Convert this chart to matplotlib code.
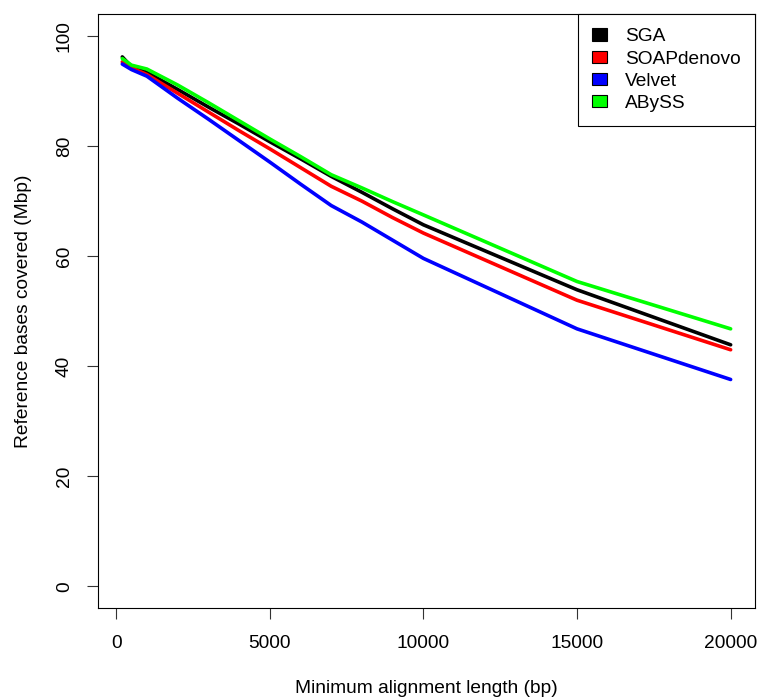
import numpy as np
import matplotlib.pyplot as plt
from matplotlib.patches import Patch

plt.rcParams['font.family'] = ['Liberation Sans', 'DejaVu Sans']

# minimum alignment length (bp)
min_len = [200, 500, 1000, 2000, 3000, 4000, 5000, 6000, 7000, 8000, 9000, 10000, 15000, 20000]

# reference bases covered (Mbp)
sga = [96.2, 94.4, 93.4, 90.3, 87.1, 84.0, 80.8, 77.7, 74.5, 71.6, 68.6, 65.7, 53.9, 43.9]
soap = [95.3, 94.2, 93.0, 89.6, 86.2, 82.8, 79.5, 76.1, 72.7, 70.0, 67.0, 64.2, 52.0, 43.0]
velvet = [94.9, 93.9, 92.7, 88.7, 84.9, 81.0, 77.1, 73.1, 69.2, 66.2, 62.9, 59.6, 46.8, 37.6]
abyss = [95.9, 94.7, 94.0, 91.1, 87.9, 84.6, 81.3, 78.1, 74.8, 72.4, 69.9, 67.5, 55.4, 46.8]

names = ['SGA', 'SOAPdenovo', 'Velvet', 'ABySS']
series = [sga, soap, velvet, abyss]
colors = ['#000000', '#ff0000', '#0000ff', '#00ff00']

x_ticks = [0, 5000, 10000, 15000, 20000]
y_ticks = [0, 20, 40, 60, 80, 100]

fs = 13.8

fig = plt.figure(figsize=(7.66, 6.99), dpi=100)
ax = fig.add_axes([0.1279, 0.1295, 0.8577, 0.8505])

for y, c in zip(series, colors):
    ax.plot(min_len, y, color=c, lw=2.6, solid_capstyle='round', solid_joinstyle='round')

# R-like 4% axis expansion
span = max(min_len) - min(min_len)
ax.set_xlim(min(min_len) - 0.04 * span, max(min_len) + 0.04 * span)
ax.set_ylim(-4, 104)

ax.set_xticks(x_ticks)
ax.set_yticks(y_ticks)
ax.set_xticklabels([str(t) for t in x_ticks])
ax.set_yticklabels([str(t) for t in y_ticks], rotation=90, va='center')
ax.tick_params(axis='both', direction='out', length=8, width=0.8, labelsize=fs, color='#333333')
ax.tick_params(axis='x', pad=11)
ax.tick_params(axis='y', pad=10)

for s in ax.spines.values():
    s.set_linewidth(0.8)

ax.set_xlabel('Minimum alignment length (bp)', fontsize=fs, labelpad=20)
ax.set_ylabel('Reference bases covered (Mbp)', fontsize=fs, labelpad=17)

handles = [Patch(facecolor=c, edgecolor='black', linewidth=0.8) for c in colors]
leg = ax.legend(handles, names, loc='upper right', bbox_to_anchor=(1, 1), borderaxespad=0,
                fontsize=fs, handlelength=0.74, handleheight=0.63, handletextpad=0.95,
                borderpad=0.75, labelspacing=0.27, fancybox=False, framealpha=1)
leg.get_frame().set_edgecolor('black')
leg.get_frame().set_linewidth(0.8)

plt.savefig('out.png', dpi=100)
